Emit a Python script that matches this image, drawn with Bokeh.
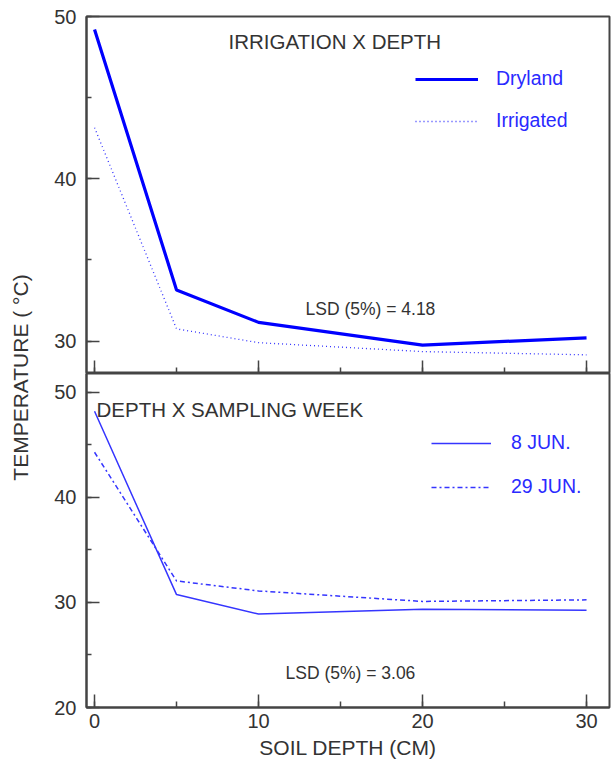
from bokeh.plotting import figure
from bokeh.models import (Range1d, SingleIntervalTicker, Legend, LegendItem, Label)
from bokeh.layouts import row, column
from bokeh.embed import file_html
from bokeh.resources import INLINE

# ---- data ----
depth = [0, 5, 10, 20, 30]
dryland = [49.2, 33.15, 31.15, 29.75, 30.2]
irrigated = [43.15, 30.75, 29.9, 29.35, 29.15]
jun8 = [48.2, 30.75, 28.9, 29.35, 29.25]
jun29 = [44.3, 32.05, 31.1, 30.1, 30.25]

top_title = "IRRIGATION X DEPTH"
bot_title = "DEPTH X SAMPLING WEEK"
lsd_top = "LSD (5%) = 4.18"
lsd_bot = "LSD (5%) = 3.06"
ylabel = "TEMPERATURE ( °C)"
xlabel = "SOIL DEPTH (CM)"

FONT = "Liberation Sans"
TXT = "#333333"
AX = "#444444"
BLUE = "#0000ff"
BLUE2 = "#3535ff"
LEG = "#2a2aff"

def style(p, show_xlabels):
    p.grid.visible = False
    p.outline_line_color = AX
    p.outline_line_width = 2
    for ax in p.yaxis:
        ax.ticker = SingleIntervalTicker(interval=10, num_minor_ticks=2)
        ax.major_tick_in = 13
        ax.major_tick_out = 0
        ax.minor_tick_in = 5
        ax.minor_tick_out = 0
        ax.axis_line_color = AX
        ax.axis_line_width = 2
        ax.major_tick_line_color = AX
        ax.major_tick_line_width = 1.5
        ax.minor_tick_line_color = AX
        ax.minor_tick_line_width = 1.5
        ax.major_label_text_font = FONT
        ax.major_label_text_font_size = "20px"
        ax.major_label_text_color = TXT
        ax.major_label_standoff = 10
    for ax in p.xaxis:
        ax.ticker = SingleIntervalTicker(interval=10, num_minor_ticks=2)
        ax.major_tick_in = 13
        ax.major_tick_out = 0
        ax.minor_tick_in = 6
        ax.minor_tick_out = 0
        ax.axis_line_color = AX
        ax.axis_line_width = 2
        ax.major_tick_line_color = AX
        ax.major_tick_line_width = 1.5
        ax.minor_tick_line_color = AX
        ax.minor_tick_line_width = 1.5
        ax.major_label_text_font = FONT
        if show_xlabels:
            ax.major_label_text_color = TXT
            ax.major_label_text_font_size = "20px"
            ax.major_label_standoff = 6
            ax.axis_label = xlabel
            ax.axis_label_text_font = FONT
            ax.axis_label_text_font_size = "21px"
            ax.axis_label_text_font_style = "normal"
            ax.axis_label_text_color = TXT
            ax.axis_label_standoff = 5
        else:
            ax.major_label_text_color = None
            ax.major_label_text_font_size = "1px"
            ax.major_label_standoff = 0

xr = Range1d(-0.49, 31.4)

# ---- top panel ----
pt = figure(frame_width=523, frame_height=357, x_range=xr, y_range=Range1d(28, 50),
            output_backend="svg", toolbar_location=None,
            min_border_left=49, min_border_right=2, min_border_top=16, min_border_bottom=0)
r1 = pt.line(depth, dryland, line_color=BLUE, line_width=3.2)
r2 = pt.line(depth, irrigated, line_color=BLUE2, line_width=1.3, line_dash="1 3")
style(pt, False)
leg1 = Legend(items=[LegendItem(label="Dryland", renderers=[r1]),
                     LegendItem(label="Irrigated", renderers=[r2])],
              location=(329, 241), orientation="vertical",
              border_line_color=None, background_fill_alpha=0, padding=0, margin=0,
              spacing=19, glyph_width=63, glyph_height=22, label_height=22,
              label_standoff=18, label_text_font=FONT, label_text_font_size="19.5px",
              label_text_color=LEG)
pt.add_layout(leg1)
pt.add_layout(Label(x=142, y=332, x_units="screen", y_units="screen", text=top_title,
                    text_font=FONT, text_font_size="20.5px", text_color=TXT,
                    text_baseline="middle", text_align="left"))
pt.add_layout(Label(x=219, y=65, x_units="screen", y_units="screen", text=lsd_top,
                    text_font=FONT, text_font_size="17.5px", text_color=TXT,
                    text_baseline="middle", text_align="left"))

# ---- bottom panel ----
pb = figure(frame_width=523, frame_height=334, x_range=xr, y_range=Range1d(20, 51.8),
            output_backend="svg", toolbar_location=None,
            min_border_left=49, min_border_right=2, min_border_top=0, min_border_bottom=0)
r3 = pb.line(depth, jun8, line_color=BLUE2, line_width=1.5)
r4 = pb.line(depth, jun29, line_color=BLUE2, line_width=1.5, line_dash="5 3 2 3")
style(pb, True)
leg2 = Legend(items=[LegendItem(label="8 JUN.", renderers=[r3]),
                     LegendItem(label="29 JUN.", renderers=[r4])],
              location=(345, 209), orientation="vertical",
              border_line_color=None, background_fill_alpha=0, padding=0, margin=0,
              spacing=21, glyph_width=60, glyph_height=22, label_height=22,
              label_standoff=20, label_text_font=FONT, label_text_font_size="19.5px",
              label_text_color=LEG)
pb.add_layout(leg2)
pb.add_layout(Label(x=10, y=298, x_units="screen", y_units="screen", text=bot_title,
                    text_font=FONT, text_font_size="20.5px", text_color=TXT,
                    text_baseline="middle", text_align="left"))
pb.add_layout(Label(x=199, y=35, x_units="screen", y_units="screen", text=lsd_bot,
                    text_font=FONT, text_font_size="17.5px", text_color=TXT,
                    text_baseline="middle", text_align="left"))

# ---- y label strip ----
H = 764
p0 = figure(width=37, height=H, x_range=Range1d(0, 1), y_range=Range1d(0, 1),
            x_axis_type=None, y_axis_type=None, output_backend="svg",
            toolbar_location=None, min_border=0)
p0.outline_line_color = None
p0.grid.visible = False
p0.add_layout(Label(x=20, y=H - 377, x_units="screen", y_units="screen", text=ylabel,
                    angle=90, angle_units="deg", text_font=FONT, text_font_size="21px",
                    text_color=TXT, text_align="center", text_baseline="middle"))

layout = row(p0, column(pt, pb))
open("out.html", "w").write(file_html(layout, INLINE))
